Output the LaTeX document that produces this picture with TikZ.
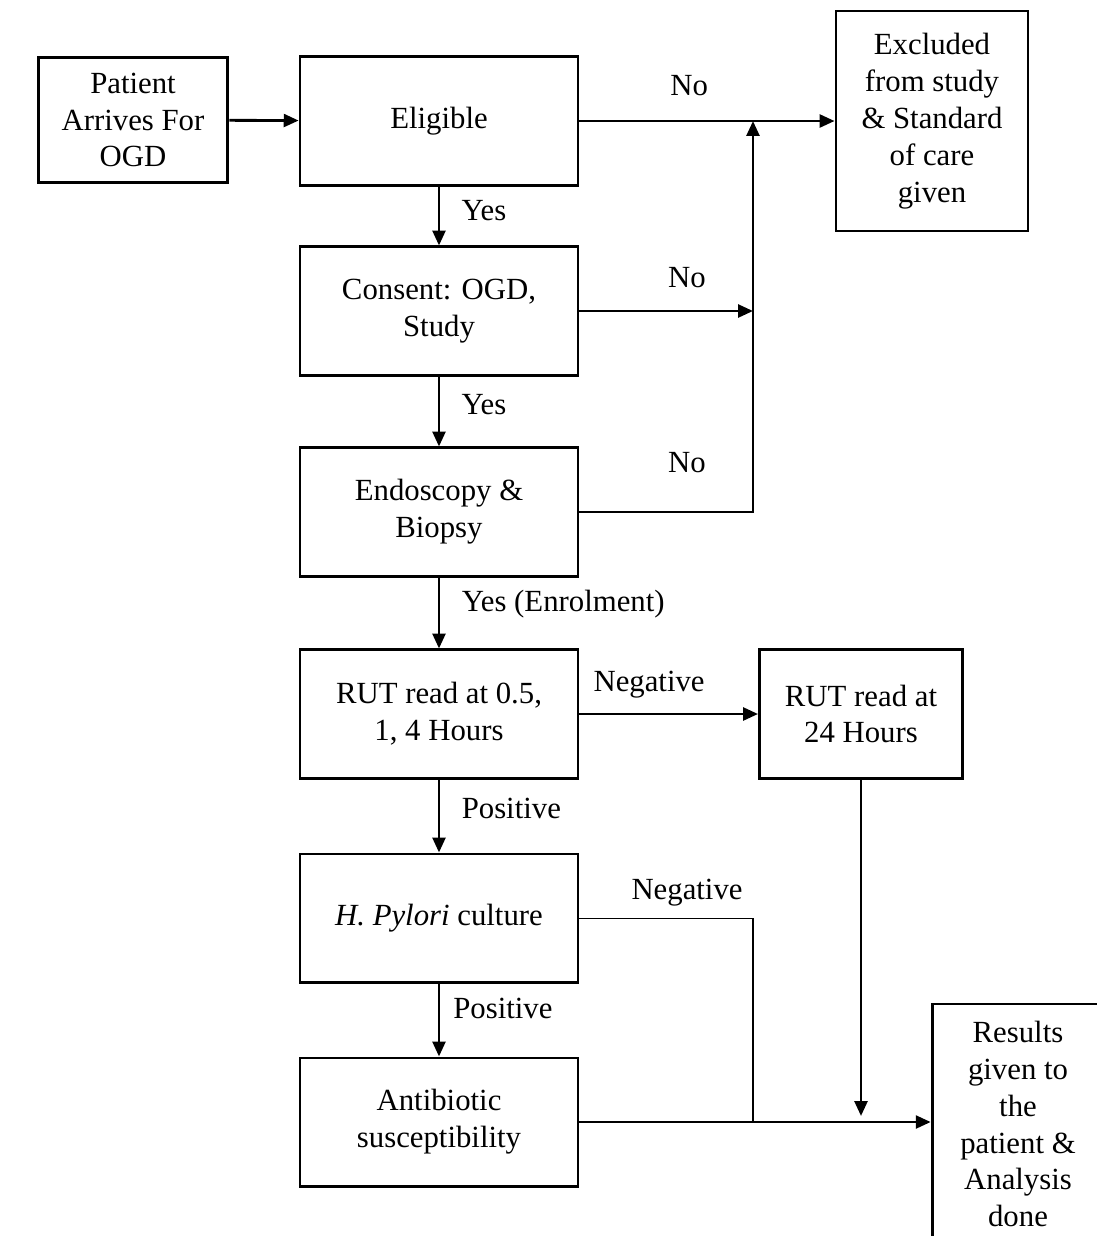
\documentclass[tikz,border=0pt]{standalone}
\usepackage{fontspec}
\setmainfont{Liberation Serif}
\usetikzlibrary{arrows.meta}

\tikzset{
  box/.style={draw, line width=1.1pt, align=center, inner sep=2pt},
  arr/.style={line width=1.1pt, -{Triangle[length=5.8pt,width=5pt]}},
  lbl/.style={inner sep=3.33pt},
}

\begin{document}
\begin{tikzpicture}[x=0.39pt,y=-0.39pt,font=\fontsize{12pt}{14.4pt}\selectfont]
    \useasboundingbox (0,0) rectangle (1097,1236);
    \clip (0,0) rectangle (1097,1236);

    \node[box,minimum width=74pt,minimum height=48.8pt] (patient) at (133,120){Patient\\Arrives For\\OGD};
    \node[box,minimum width=108.4pt,minimum height=50pt] (elig) at (439,121){Eligible};
    \node[box,minimum width=74.9pt,minimum height=85.8pt] (excl) at (932,121){Excluded\\from study\\\& Standard\\of care\\given};
    \node[box,minimum width=108.4pt,minimum height=50pt] (consent) at (439,311){Consent: OGD,\\Study};
    \node[box,minimum width=108.4pt,minimum height=50pt] (endo) at (439,512){Endoscopy \&\\Biopsy};
    \node[box,minimum width=108.4pt,minimum height=50pt] (rut) at (439,714){RUT read at 0.5,\\1, 4 Hours};
    \node[box,minimum width=79.2pt,minimum height=50pt] (rut24) at (861,714){RUT read at\\24 Hours};
    \node[box,minimum width=108.4pt,minimum height=50pt] (hpy) at (439,918){\textit{H. Pylori} culture};
    \node[box,minimum width=108.4pt,minimum height=50pt] (anti) at (439,1122){Antibiotic\\susceptibility};
    \node[box,minimum width=67pt,minimum height=93.6pt] (results) at (1018,1124){Results\\given to\\the\\patient \&\\Analysis\\done};

    \coordinate (jtop) at (753,121);
    \coordinate (jmid) at (753,311);
    \coordinate (jbot) at (753,1122);
    \coordinate (drop) at (861,1116);

    % main column
    \draw[arr] (patient) -- (elig);
    \draw[arr] (elig) -- node[lbl,pos=0.4,right=4.9pt] (yes1) {Yes} (consent);
    \draw[arr] (consent) -- node[lbl,pos=0.4,right=4.9pt] (yes2) {Yes} (endo);
    \draw[arr] (endo) -- node[lbl,pos=0.38,right=5pt] (yes3) {Yes (Enrolment)} (rut);
    \draw[arr] (rut) -- node[lbl,pos=0.39,right=5pt] (pos1) {Positive} (hpy);
    \draw[arr] (hpy) -- node[lbl,pos=0.34,right=1.7pt] (pos2) {Positive} (anti);

    % exclusions
    \draw[arr] (elig) -- node[lbl,pos=0.43,above=6pt] (no1) {No} (excl);
    \draw[arr] (consent) -- node[lbl,pos=0.62,above=5.2pt] (no2) {No} (jmid);
    \draw[arr] (endo) -| node[lbl,pos=0.31,above=11.5pt] (no3) {No} (jtop);

    % results
    \draw[arr] (rut) -- node[lbl,pos=0.39,above=2.5pt] (neg1) {Negative} (rut24);
    \draw[arr] (rut24) -- (drop);
    \draw (hpy) -| node[lbl,pos=0.31,above=1pt] (neg2) {Negative} (jbot);
    \draw[arr] (anti) -- (results.west |- anti);
\end{tikzpicture}
\end{document}
